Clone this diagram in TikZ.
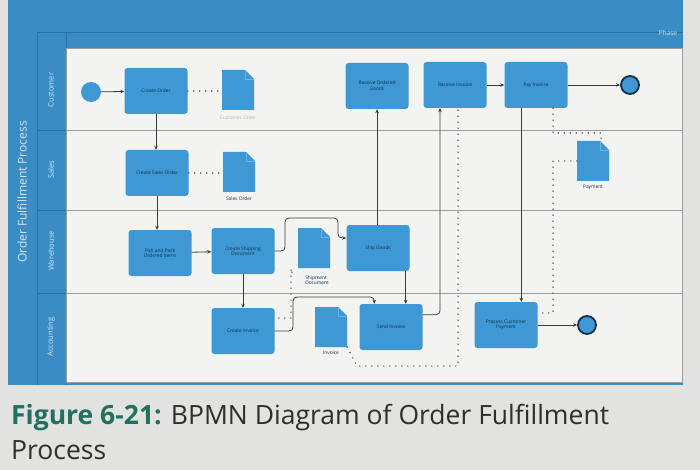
\documentclass[tikz,border=0pt]{standalone}
\usepackage{fontspec}
\setmainfont{Open Sans}
\usetikzlibrary{arrows.meta}
\definecolor{pagebg}{HTML}{E2E2E0}
\definecolor{frameblue}{HTML}{3A8DC4}
\definecolor{framedark}{HTML}{2C70A0}
\definecolor{lanebg}{HTML}{F3F3F1}
\definecolor{laneline}{HTML}{9A9EA0}
\definecolor{taskblue}{HTML}{3D98D4}
\definecolor{foldblue}{HTML}{6DB3E2}
\definecolor{tasktext}{HTML}{12304A}
\definecolor{linegray}{HTML}{3A3A3A}
\definecolor{dotgray}{HTML}{505458}
\definecolor{teal}{HTML}{22705F}
\definecolor{captext}{HTML}{2E2E2E}
\definecolor{lanetext}{HTML}{D2E5F2}
\begin{document}
\begin{tikzpicture}[x=1pt,y=-1pt,
  task/.style={rectangle, rounded corners=3pt, fill=taskblue, minimum width=63pt, minimum height=46pt,
    inner sep=1pt, align=center, text=tasktext, font=\fontsize{4.8}{5.6}\selectfont},
  docshape/.style={rectangle, minimum width=32pt, minimum height=40pt, inner sep=0pt,
    path picture={
      \fill[taskblue] (path picture bounding box.south west) -- (path picture bounding box.north west)
        -- ([xshift=-9pt]path picture bounding box.north east) -- ([yshift=-9pt]path picture bounding box.north east)
        -- (path picture bounding box.south east) -- cycle;
      \draw[foldblue, line width=0.6pt] ([xshift=-9pt]path picture bounding box.north east) -- ([xshift=-9pt,yshift=-9pt]path picture bounding box.north east) -- ([yshift=-9pt]path picture bounding box.north east);}},
  doclabel/.style={font=\fontsize{4.8}{5.6}\selectfont, text=tasktext, align=center, inner sep=0pt},
  startev/.style={circle, fill=taskblue, minimum size=20pt, inner sep=0pt},
  endev/.style={circle, fill=taskblue, draw=tasktext, line width=1.8pt, minimum size=18pt, inner sep=0pt},
  flow/.style={draw=linegray, line width=0.8pt, -{Stealth[length=4pt,width=3.5pt]}},
  assoc/.style={draw=dotgray, line width=1.6pt, line cap=round, dash pattern=on 0pt off 6pt},
  lanelabel/.style={rotate=90, text=lanetext, font=\fontsize{7.5}{8.5}\selectfont, inner sep=0pt}
]
% page
\fill[pagebg] (0,0) rectangle (700,470);
\path[use as bounding box] (0,0) rectangle (700,470);
% frame
\fill[frameblue] (8,0) rectangle (683,385);
\draw[framedark, line width=1pt] (37,33) -- (683,33);
\draw[framedark, line width=1pt] (37,33) -- (37,385);
\draw[framedark, line width=0.8pt] (66,33) -- (66,385);
\fill[lanebg] (66,48) rectangle (682,382);
\draw[laneline, line width=0.9pt] (66,48) rectangle (682,382);
\draw[laneline, line width=0.9pt] (66,130) -- (682,130);
\draw[laneline, line width=0.9pt] (66,210) -- (682,210);
\draw[laneline, line width=0.9pt] (66,293) -- (682,293);
\draw[framedark, line width=0.8pt] (37,130) -- (66,130);
\draw[framedark, line width=0.8pt] (37,210) -- (66,210);
\draw[framedark, line width=0.8pt] (37,293) -- (66,293);
% labels
\node[rotate=90, text=lanetext, font=\fontsize{12}{14}\selectfont, inner sep=0pt] (pool) at (22,192) {Order Fulfillment Process};
\node[lanelabel] (lcust) at (51,90) {Customer};
\node[lanelabel] (lsales) at (51,170) {Sales};
\node[lanelabel] (lware) at (51,251) {Warehouse};
\node[lanelabel] (lacct) at (51,337) {Accounting};
\node[text=lanetext, font=\fontsize{6.5}{7.5}\selectfont, inner sep=0pt] (phase) at (668,33) {Phase};
% customer lane
\node[startev] (start) at (91,92) {};
\node[task] (co) at (156,91) {Create Order};
\node[docshape] (cdoc) at (238,90) {};
\node[doclabel, text=gray!60] (cdocl) at (238,118) {Customer Order};
\node[task] (rog) at (377,86) {Receive Ordered\\Goods};
\node[task] (ri) at (455,85) {Receive Invoice};
\node[task] (pi) at (536,85) {Pay Invoice};
\node[endev] (e1) at (630,85) {};
% sales lane
\node[task] (cso) at (157,173) {Create Sales Order};
\node[docshape] (sdoc) at (239,172) {};
\node[doclabel] (sdocl) at (239,199) {Sales Order};
\node[docshape] (paydoc) at (593,161) {};
\node[doclabel] (paydocl) at (593,187) {Payment};
% warehouse lane
\node[task] (pp) at (160,253) {Pick and Pack\\Ordered Items};
\node[task] (csd) at (243,251) {Create Shipping\\Document};
\node[docshape] (shdoc) at (314,248) {};
\node[doclabel, align=left] (shdocl) at (317,280) {Shipment\\Document};
\node[task] (sg) at (378,248) {Ship Goods};
% accounting lane
\node[task] (ci) at (243,331) {Create Invoice};
\node[docshape] (invdoc) at (331,327) {};
\node[doclabel] (invdocl) at (331,353) {Invoice};
\node[task] (si) at (391,327) {Send Invoice};
\node[task] (pcp) at (506,325) {Process Customer\\Payment};
\node[endev] (e2) at (587,325) {};
% sequence flows
\draw[flow] (start) -- (co);
\draw[flow] (co) -- (co |- cso.north);
\draw[flow] (cso.south) -- (cso.south |- pp.north);
\draw[flow] (pp) -- (csd);
\draw[flow] (csd) -- (ci);
\coordinate (k1) at (285,218);
\coordinate (k2) at (338,238);
\draw[flow, rounded corners=4pt] (csd.east) -| (k1) -| (k2) -- (k2 -| sg.west);
\draw[flow] (sg.north -| rog.south) -- (rog.south);
\draw[flow] ([xshift=-4pt]sg.south east) -- ([xshift=-4pt]sg.south east |- si.north);
\coordinate (k3) at (293,297);
\draw[flow, rounded corners=4pt] (ci.east) -| (k3) -| ([xshift=15pt]si.north west);
\draw[flow, rounded corners=4pt] ([yshift=-11pt]si.north east) -| ([xshift=-15pt]ri.south);
\draw[flow] (ri) -- (pi);
\draw[flow] (pi) -- (e1);
\draw[flow] ([xshift=17pt]pi.south west) -- ([xshift=17pt]pi.south west |- pcp.north);
\draw[flow] (pcp) -- (e2);
% data associations
\draw[assoc] (co.east) -- (cdoc.west |- co.east);
\draw[assoc] (cso.east) -- (sdoc.west |- cso.east);
\coordinate (k4) at (291,318);
\draw[assoc] ([xshift=-6pt,yshift=-4pt]shdoc.south west) -- (k4 |- shdoc.south) -- (k4) -- (k4 -| ci.east);
\coordinate (k5) at (357,366);
\coordinate (k6) at (458,366);
\draw[assoc] (invdoc.south east) -- (k5) -- (k6) -- (k6 |- ri.south);
\coordinate (k7) at (553,133);
\coordinate (k8) at (601,133);
\draw[assoc] (k7 |- pi.south) -- (k7) -- (k8) -- (k8 |- paydoc.north);
\coordinate (k9) at (553,313);
\draw[assoc] (paydoc.west) -- (paydoc.west -| k9) -- (k9) -- (k9 -| pcp.east);
% caption
\node[anchor=base west, inner sep=0pt, font=\fontsize{26.5}{30}\selectfont, text=captext] (cap1) at (11,424)
  {\textcolor{teal}{\textbf{Figure 6-21:}} BPMN Diagram of Order Fulfillment};
\node[anchor=base west, inner sep=0pt, font=\fontsize{26.5}{30}\selectfont, text=captext] (cap2) at (11,459) {Process};
\end{tikzpicture}
\end{document}
